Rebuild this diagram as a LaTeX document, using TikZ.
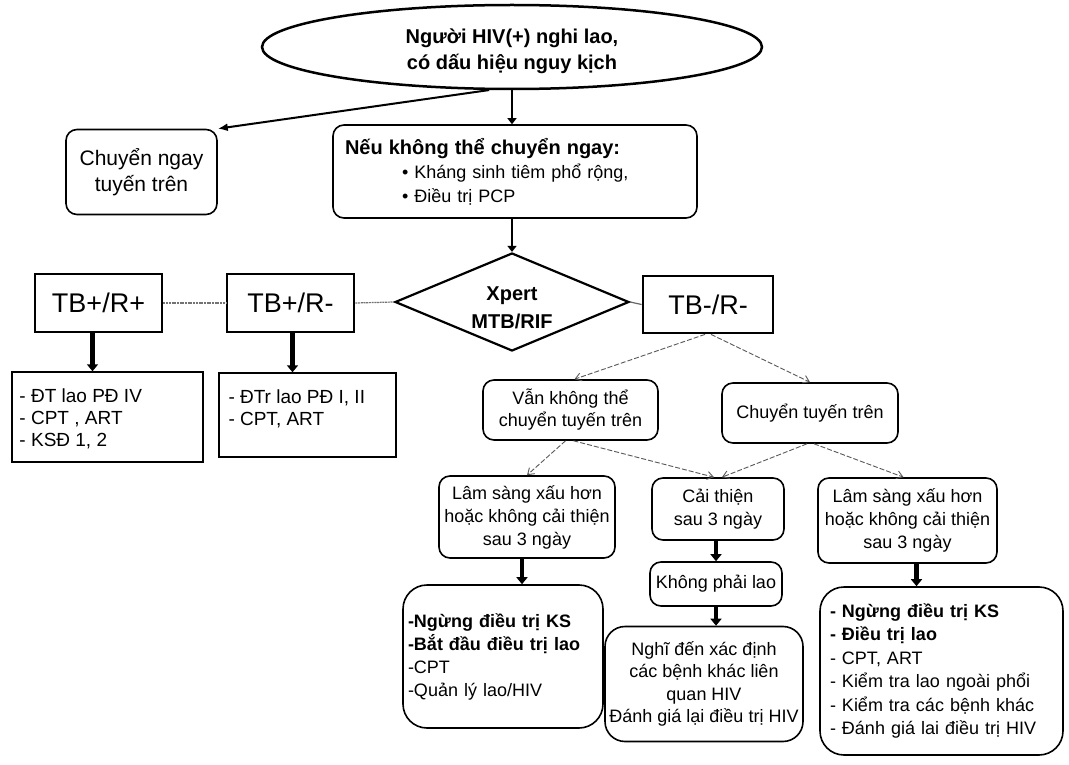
\documentclass[tikz,border=0pt]{standalone}
\usepackage{fontspec}
\setmainfont{Liberation Sans}
\usetikzlibrary{shapes.geometric,arrows.meta}
\begin{document}
\begin{tikzpicture}[x=1pt,y=-1pt,
  base/.style={draw, line width=1.6pt, align=center, font=\fontsize{18}{22}\selectfont, inner sep=0pt},
  rbox/.style={base, rounded corners=11pt},
  bigbox/.style={base, rounded corners=24pt},
  tbbox/.style={draw, line width=2.8pt, font=\fontsize{27}{32}\selectfont, inner sep=0pt},
  sqbox/.style={draw, line width=1.4pt, inner sep=0pt},
  sqtext/.style={anchor=north west, align=left, inner sep=0pt, font=\fontsize{19}{22}\selectfont},
  thickarrow/.style={line width=4.5pt, -{Triangle[length=7pt,width=11pt]}},
  midarrow/.style={line width=2.6pt, -{Triangle[length=6pt,width=9pt]}},
  dasharrow/.style={draw=black!65, line width=0.9pt, dash pattern=on 5pt off 2pt, -{Straight Barb[length=6pt,width=8pt]}},
  dotline/.style={draw=black!55, line width=1.2pt, dash pattern=on 2pt off 0.7pt},
]
\fill[white] (0,0) rectangle (1069,765);
\useasboundingbox (0,0) rectangle (1069,765);

% top
\node[ellipse, draw, line width=2.5pt, minimum width=500pt, minimum height=84pt, inner sep=0pt] (ell) at (512,47) {};
\node[align=center, inner sep=0pt, font=\bfseries\fontsize{20}{26}\selectfont] (ellt) at (512,51) {Người HIV(+) nghi lao,\\có dấu hiệu nguy kịch};
\node[rbox, minimum width=151pt, minimum height=85pt, font=\fontsize{21}{26}\selectfont] (chuyen) at (141.5,172) {Chuyển ngay\\tuyến trên};
\node[rbox, minimum width=364pt, minimum height=93pt, align=left, text width=340pt, inner xsep=12pt,
      font=\fontsize{18}{24}\selectfont] (neu) at (515,171.5)
      {{\bfseries\fontsize{20}{24}\selectfont Nếu không thể chuyển ngay:}\\\hspace*{57pt}• Kháng sinh tiêm phổ rộng,\\\hspace*{57pt}• Điều trị PCP};

% xpert row
\node[diamond, draw, line width=2.2pt, minimum width=234pt, minimum height=98pt, inner sep=0pt] (xp) at (512,302) {};
\node[align=center, inner sep=0pt, font=\bfseries\fontsize{20}{28}\selectfont] (xpt) at (512,308) {Xpert\\MTB/RIF};
\node[tbbox, minimum width=127pt, minimum height=58pt] (tbpp) at (98.5,303) {TB+/R+};
\node[tbbox, minimum width=127pt, minimum height=58pt] (tbpm) at (290.5,303) {TB+/R-};
\node[tbbox, minimum width=130pt, minimum height=57pt] (tbmm) at (708,304.5) {TB-/R-};

% left boxes
\node[sqbox, minimum width=191pt, minimum height=90pt] (box1) at (107.5,417) {};
\node[sqtext] (box1t) at ([shift={(8,17)}]box1.north west) {- ĐT lao PĐ IV\\- CPT , ART\\- KSĐ 1, 2};
\node[sqbox, minimum width=177pt, minimum height=84pt] (box2) at (307.5,415) {};
\node[sqtext] (box2t) at ([shift={(10,17)}]box2.north west) {- ĐTr lao PĐ I, II\\- CPT, ART};

% right branch
\node[rbox, minimum width=175pt, minimum height=60pt] (van) at (570.5,410) {Vẫn không thể\\chuyển tuyến trên};
\node[rbox, minimum width=176pt, minimum height=60pt] (ctt) at (810,413) {Chuyển tuyến trên};
\node[rbox, minimum width=176pt, minimum height=82pt, font=\fontsize{18}{23}\selectfont] (lsl) at (527,517) {Lâm sàng xấu hơn\\hoặc không cải thiện\\sau 3 ngày};
\node[rbox, minimum width=132pt, minimum height=62pt, font=\fontsize{18}{23}\selectfont] (cai) at (718,509) {Cải thiện\\sau 3 ngày};
\node[rbox, minimum width=179pt, minimum height=85pt, font=\fontsize{18}{23}\selectfont] (lsr) at (907.5,520.5) {Lâm sàng xấu hơn\\hoặc không cải thiện\\sau 3 ngày};
\node[rbox, minimum width=132pt, minimum height=44pt] (kpl) at (716,584) {Không phải lao};

% bottom boxes
\node[bigbox, minimum width=200pt, minimum height=143pt, align=left, text width=190pt, inner xsep=5pt,
      font=\fontsize{18}{23}\selectfont] (lb) at (503,656.5)
  {\textbf{-Ngừng điều trị KS}\\\textbf{-Bắt đầu điều trị lao}\\-CPT\\-Quản lý lao/HIV};
\node[bigbox, minimum width=198pt, minimum height=115pt, rounded corners=20pt, font=\fontsize{18}{22.5}\selectfont] (ng) at (704,684)
  {Nghĩ đến xác định\\các bệnh khác liên\\quan HIV\\Đánh giá lại điều trị HIV};
\node[bigbox, minimum width=243pt, minimum height=168pt, align=left, text width=223pt, inner xsep=10pt,
      font=\fontsize{18}{23.5}\selectfont] (rb) at (941.5,671)
  {\textbf{- Ngừng điều trị KS}\\\textbf{- Điều trị lao}\\- CPT, ART\\- Kiểm tra lao ngoài phổi\\- Kiểm tra các bệnh khác\\- Đánh giá lai điều trị HIV};

% connectors
\draw[midarrow] (ell.south) -- (ell.south |- neu.north);
\draw[line width=2pt, -{Latex[length=10pt,width=8pt]}] (ell.242) -- (chuyen.north east);
\draw[midarrow] (xp.north |- neu.south) -- (xp.north);
\draw[dotline] (tbpp.east) -- (tbpm.west);
\draw[dotline] (tbpm.east) -- (xp.west);
\draw[draw=black!60, line width=1.2pt] (xp.east) -- (tbmm.west);
\draw[thickarrow] ([xshift=-6pt]tbpp.south) -- ([xshift=-6pt]tbpp.south |- box1.north);
\draw[thickarrow] ([xshift=2pt]tbpm.south) -- ([xshift=2pt]tbpm.south |- box2.north);
\draw[dasharrow] ([xshift=-3pt]tbmm.south) -- ([xshift=4pt]van.north);
\draw[dasharrow] ([xshift=3pt]tbmm.south) -- (ctt.north);
\draw[dasharrow] ([xshift=-5pt]van.south) -- (lsl.north);
\draw[dasharrow] ([xshift=3pt]van.south) -- ([xshift=-4pt]cai.north);
\draw[dasharrow] ([xshift=-3pt]ctt.south) -- ([xshift=4pt]cai.north);
\draw[dasharrow] ([xshift=4pt]ctt.south) -- ([xshift=-4pt]lsr.north);
\draw[thickarrow] ([xshift=-5pt]lsl.south) -- ([xshift=-5pt]lsl.south |- lb.north);
\draw[thickarrow] (kpl.north |- cai.south) -- (kpl.north);
\draw[thickarrow] (kpl.south) -- (kpl.south |- ng.north);
\draw[thickarrow] ([xshift=9pt]lsr.south) -- ([xshift=9pt]lsr.south |- rb.north);
\end{tikzpicture}
\end{document}
